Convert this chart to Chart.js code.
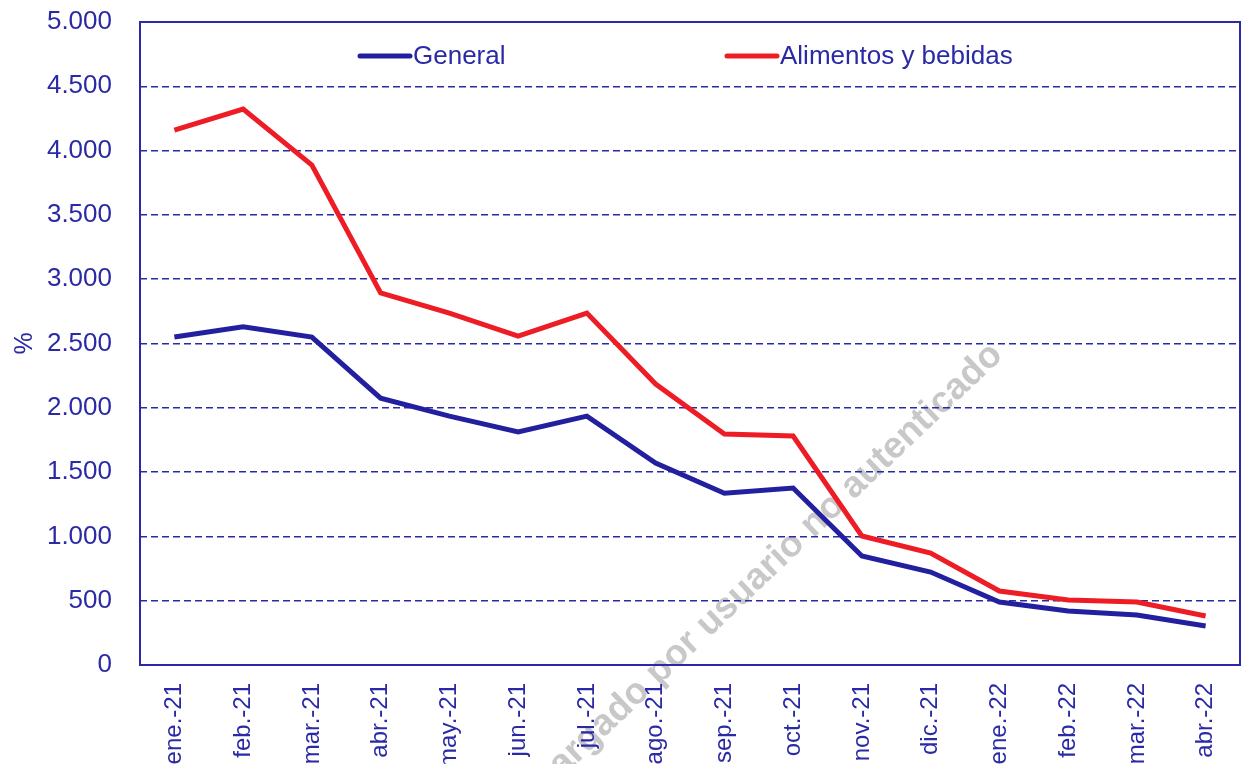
<!DOCTYPE html>
<html>
<head>
<meta charset="utf-8">
<script src="https://cdn.jsdelivr.net/npm/chart.js@4/dist/chart.umd.min.js"></script>
<style>
  html, body { margin: 0; padding: 0; background: #fff; }
  #wrap { width: 1243px; height: 764px; }
</style>
</head>
<body>
<div id="wrap"><canvas id="chart"></canvas></div>
<script>
// months shown on the x axis
const months = ["ene.-21", "feb.-21", "mar.-21", "abr.-21", "may.-21", "jun.-21", "jul.-21", "ago.-21",
                "sep.-21", "oct.-21", "nov.-21", "dic.-21", "ene.-22", "feb.-22", "mar.-22", "abr.-22"];

// series
const general   = [2550, 2630, 2550, 2075, 1935, 1812, 1935, 1570, 1335, 1376, 848, 723, 490, 420, 389, 303];
const alimentos = [4160, 4323, 3888, 2893, 2737, 2558, 2737, 2185, 1796, 1781, 1003, 871, 575, 505, 490, 381];

// y tick labels (spanish thousands separator)
const yTickLabels = ["0", "500", "1.000", "1.500", "2.000", "2.500", "3.000", "3.500", "4.000", "4.500", "5.000"];

const BLUE = "#2a2aa6";
const NAVY = "#2320a0";
const RED = "#ee1d25";
const NONE = "rgba(0,0,0,0)";

// box round the plot area
const framePlugin = {
  id: "frame",
  beforeDatasetsDraw(chart) {
    const {ctx, chartArea: a} = chart;
    ctx.save();
    ctx.strokeStyle = BLUE;
    ctx.lineWidth = 2;
    ctx.strokeRect(a.left, a.top, a.right - a.left, a.bottom - a.top);
    ctx.restore();
  }
};

// legend inside the plot, two items far apart
const legendPlugin = {
  id: "insideLegend",
  afterDatasetsDraw(chart) {
    const {ctx, chartArea: a} = chart;
    const offsets = [220, 587];
    const y = a.top + 34;
    ctx.save();
    ctx.font = "26px 'Liberation Sans', Arial, sans-serif";
    ctx.textBaseline = "middle";
    chart.data.datasets.forEach((ds, i) => {
      const x = a.left + offsets[i];
      ctx.strokeStyle = ds.borderColor;
      ctx.lineWidth = 5;
      ctx.lineCap = "round";
      ctx.beginPath();
      ctx.moveTo(x, y);
      ctx.lineTo(x + 50, y);
      ctx.stroke();
      ctx.fillStyle = BLUE;
      ctx.fillText(ds.label, x + 53, y + 1);
    });
    ctx.restore();
  }
};

// grey watermark, under everything else
const watermarkPlugin = {
  id: "watermark",
  beforeDraw(chart) {
    const ctx = chart.ctx;
    ctx.save();
    ctx.translate(1004, 357);
    ctx.rotate(-43.6 * Math.PI / 180);
    ctx.font = "bold 37px 'Liberation Sans', Arial, sans-serif";
    ctx.fillStyle = "#c8c8c8";
    ctx.textAlign = "right";
    ctx.textBaseline = "alphabetic";
    ctx.fillText("Descargado por usuario no autenticado", 0, 0);
    ctx.restore();
  }
};

new Chart(document.getElementById("chart"), {
  type: "line",
  data: {
    labels: months,
    datasets: [
      {
        label: "General",
        data: general,
        borderColor: NAVY,
        backgroundColor: NAVY,
        borderWidth: 5,
        pointRadius: 0,
        tension: 0
      },
      {
        label: "Alimentos y bebidas",
        data: alimentos,
        borderColor: RED,
        backgroundColor: RED,
        borderWidth: 5,
        pointRadius: 0,
        tension: 0
      }
    ]
  },
  options: {
    responsive: true,
    maintainAspectRatio: false,
    animation: false,
    layout: { padding: { top: 22, right: 3, left: 0, bottom: 0 } },
    plugins: {
      legend: { display: false },
      tooltip: { enabled: false }
    },
    scales: {
      x: {
        offset: true,
        // invisible tick marks give the gap under the axis
        grid: { color: NONE, drawTicks: true, tickLength: 14, tickColor: NONE },
        border: { display: false },
        ticks: {
          color: BLUE,
          font: { family: "'Liberation Sans', Arial, sans-serif", size: 24 },
          minRotation: 90,
          maxRotation: 90,
          padding: 4,
          autoSkip: false
        },
        afterFit(scale) { scale.height = 99; }
      },
      y: {
        min: 0,
        max: 5000,
        grid: {
          drawTicks: true,
          tickLength: 24,
          tickColor: NONE,
          lineWidth: 1.5,
          color: (c) => (c.tick && (c.tick.value === 0 || c.tick.value === 5000)) ? NONE : BLUE
        },
        border: { display: false, dash: [7, 4] },
        ticks: {
          stepSize: 500,
          color: BLUE,
          font: { family: "'Liberation Sans', Arial, sans-serif", size: 26 },
          padding: 4,
          callback: (v, i) => yTickLabels[i]
        },
        title: {
          display: true,
          text: "%",
          color: BLUE,
          font: { family: "'Liberation Sans', Arial, sans-serif", size: 25 },
          padding: { top: 10, bottom: 0 }
        },
        afterFit(scale) { scale.width = 140; }
      }
    }
  },
  plugins: [framePlugin, legendPlugin, watermarkPlugin]
});
</script>
</body>
</html>
